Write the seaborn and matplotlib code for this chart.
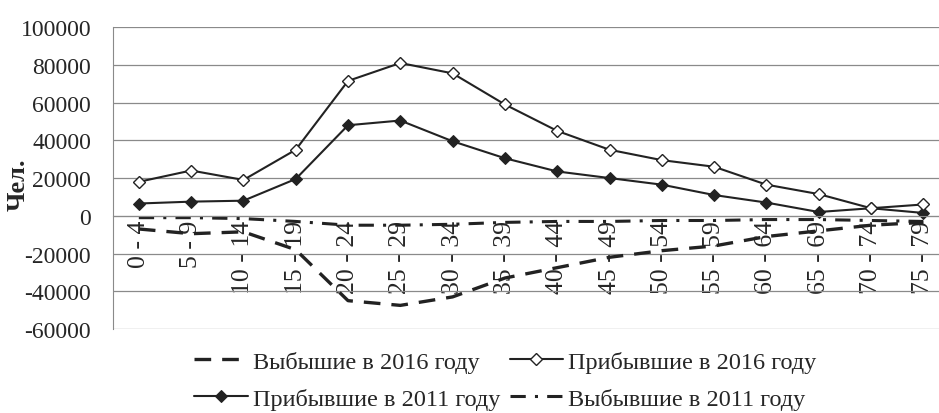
'''
Migration by age group: arrivals and departures, 2011 vs 2016.
'''

import matplotlib
matplotlib.use('agg')
import matplotlib.pyplot as plt
import pandas as pd
import seaborn as sns

# age groups on the x axis
ages = ['0 - 4', '5 - 9', '10 - 14', '15 - 19', '20 - 24', '25 - 29', '30 - 34',
        '35 - 39', '40 - 44', '45 - 49', '50 - 54', '55 - 59', '60 - 64',
        '65 - 69', '70 - 74', '75 - 79']

arrived_2016 = [18000, 24000, 19000, 35000, 71500, 81000, 75500, 59000,
                45000, 35000, 29500, 26000, 16500, 11500, 4000, 6000]
arrived_2011 = [6500, 7500, 8000, 19500, 48000, 50500, 39500, 30500,
                23500, 20000, 16500, 11000, 7000, 2000, 4000, 1500]
left_2016 = [-7000, -9500, -8500, -18000, -45000, -47500, -43000, -33000,
             -27500, -22000, -18500, -16000, -11000, -8000, -5000, -3500]
left_2011 = [-1000, -1000, -1500, -3000, -5000, -5000, -4500, -3500,
             -3000, -3000, -2500, -2500, -2000, -2000, -2500, -3000]

yticks = [-60000, -40000, -20000, 0, 20000, 40000, 60000, 80000, 100000]

sns.set_style('white')
plt.rcParams['font.family'] = ['Liberation Serif', 'DejaVu Serif']

df = pd.DataFrame({'pos': range(len(ages)), 'age': ages,
                   'a16': arrived_2016, 'a11': arrived_2011,
                   'l16': left_2016, 'l11': left_2011})

fig = plt.figure(figsize=(9.39, 4.14), dpi=100)
ax = fig.add_axes([0.120, 0.203, 0.880, 0.729])

ink = '#222222'
grid = '#8a8a8a'
sns.lineplot(data=df, x='pos', y='l16', ax=ax, color=ink, lw=2.4,
             linestyle=(0, (5, 3.3)), label='Выбышие в 2016 году')
sns.lineplot(data=df, x='pos', y='a11', ax=ax, color=ink, lw=1.5, marker='D',
             markersize=6.5, markerfacecolor=ink, markeredgecolor=ink,
             label='Прибывшие в 2011 году')
sns.lineplot(data=df, x='pos', y='a16', ax=ax, color=ink, lw=1.5, marker='D',
             markersize=6.5, markerfacecolor='white', markeredgecolor=ink,
             markeredgewidth=1.0, label='Прибывшие в 2016 году')
sns.lineplot(data=df, x='pos', y='l11', ax=ax, color=ink, lw=2.2,
             linestyle=(0, (5, 3, 1, 3)), label='Выбывшие в 2011 году')

ax.set_ylim(-60000, 100000)
ax.set_xlim(-0.5, 15.3)
ax.set_yticks(yticks)
ax.set_yticklabels([str(v) for v in yticks])
ax.yaxis.grid(True, color=grid, lw=0.9)
ax.set_axisbelow(True)

ax.set_xticks(range(len(ages)))
ax.set_xticklabels(ages, family=['Liberation Sans', 'DejaVu Sans'])
ax.set_xticks([i + 0.5 for i in range(len(ages) - 1)], minor=True)
ax.spines['bottom'].set_position(('data', 0))
ax.spines['bottom'].set_color(grid)
ax.spines['left'].set_color(grid)
ax.spines['top'].set_visible(False)
ax.spines['right'].set_visible(False)
ax.tick_params(axis='x', which='major', length=0, pad=3, labelrotation=90,
               labelsize=18.5)
ax.tick_params(axis='x', which='minor', length=4, color=grid, direction='out')
ax.tick_params(axis='y', length=4.5, color=grid, pad=11, labelsize=17)

ax.set_xlabel('')
ax.set_ylabel('Чел.', fontsize=19, fontweight='bold', labelpad=0)
ax.yaxis.set_label_coords(-0.1, 0.48)

h, l = ax.get_legend_handles_labels()
ax.legend(h, l, ncol=2, frameon=False, fontsize=17.5, loc='upper center',
          bbox_to_anchor=(0.475, -0.016), columnspacing=0.4, handlelength=2.2,
          handletextpad=0.2, labelspacing=0.62, borderpad=0.2)

plt.savefig('out.png', dpi=100)
plt.close()
